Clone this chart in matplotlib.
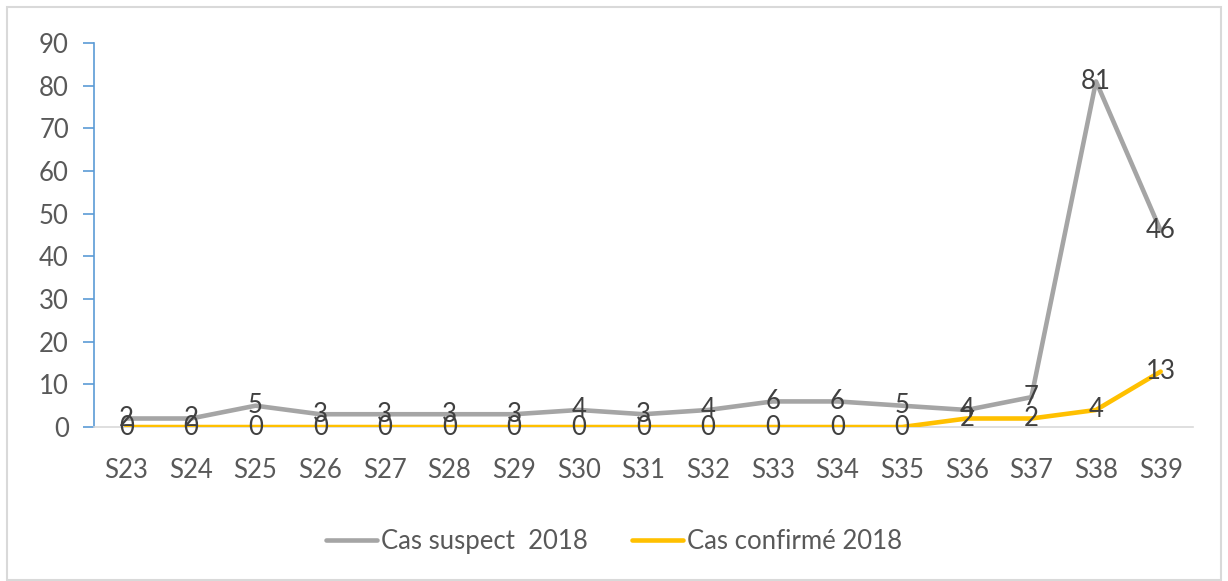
import matplotlib.pyplot as plt
from matplotlib.patches import Rectangle

plt.rcParams["font.family"] = ["Lato", "DejaVu Sans"]

semaines = ["S23", "S24", "S25", "S26", "S27", "S28", "S29", "S30", "S31",
            "S32", "S33", "S34", "S35", "S36", "S37", "S38", "S39"]
suspects = [2, 2, 5, 3, 3, 3, 3, 4, 3, 4, 6, 6, 5, 4, 7, 81, 46]
confirmes = [0, 0, 0, 0, 0, 0, 0, 0, 0, 0, 0, 0, 0, 2, 2, 4, 13]

GRIS = "#A5A5A5"
JAUNE = "#FFC000"
TEXTE = "#595959"
FS = 18.5

fig = plt.figure(figsize=(12.28, 5.81), dpi=100)
ax = fig.add_axes([0.0765, 0.265, 0.895, 0.661])

x = list(range(len(semaines)))
ax.plot(x, suspects, color=GRIS, lw=3.3, label="Cas suspect  2018",
        solid_capstyle="round", zorder=3)
ax.plot(x, confirmes, color=JAUNE, lw=3.3, label="Cas confirmé 2018",
        solid_capstyle="round", zorder=3)

# etiquettes de donnees
for xi, v in zip(x, suspects):
    ax.text(xi, v, str(v), ha="center", va="center", fontsize=FS,
            color="#404040", zorder=4)
for xi, v in zip(x, confirmes):
    ax.text(xi, v, str(v), ha="center", va="center", fontsize=FS,
            color="#404040", zorder=4)

ax.set_xlim(-0.5, len(semaines) - 0.5)
ax.set_ylim(0, 90)
ax.set_yticks(range(0, 91, 10))
ax.set_xticks(x)
ax.set_xticklabels(semaines)

for s in ["top", "right"]:
    ax.spines[s].set_visible(False)
ax.spines["left"].set_color("#5B9BD5")
ax.spines["left"].set_linewidth(1.2)
ax.spines["bottom"].set_color("#D9D9D9")
ax.spines["bottom"].set_linewidth(1.2)
ax.tick_params(axis="y", colors="#5B9BD5", length=8, width=1.2,
               labelcolor=TEXTE, labelsize=FS, pad=10)
ax.tick_params(axis="x", length=0, labelcolor=TEXTE, labelsize=FS, pad=22)

ax.legend(loc="center", bbox_to_anchor=(0.5, 0.068), bbox_transform=fig.transFigure,
          ncol=2, frameon=False, fontsize=FS, handlelength=2.0,
          handletextpad=0.15, columnspacing=1.7, labelcolor=TEXTE)

fig.patches.append(Rectangle((0.006, 0.002), 0.988, 0.986, transform=fig.transFigure,
                             fill=False, edgecolor="#D9D9D9", lw=1.5))

fig.savefig("out.png", dpi=100)
